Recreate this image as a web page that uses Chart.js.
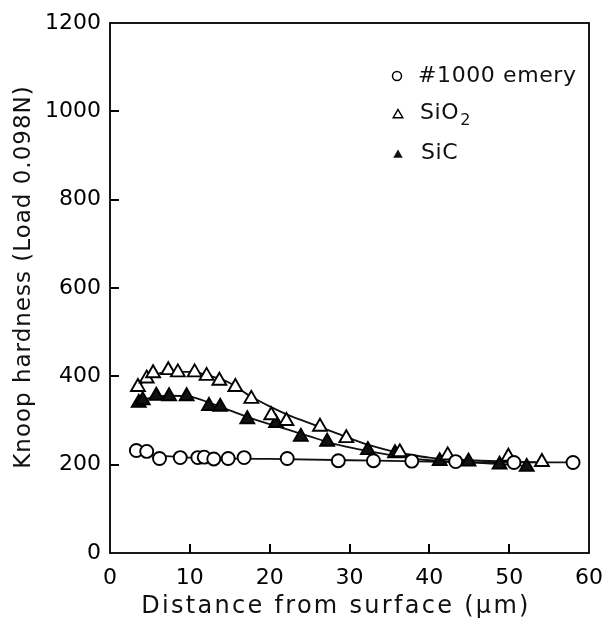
<!DOCTYPE html>
<html><head><meta charset="utf-8">
<script src="https://cdn.jsdelivr.net/npm/chart.js@4.4.1/dist/chart.umd.min.js"></script>
<style>html,body{margin:0;padding:0;background:#fff}#wrap{width:607px;height:623px}</style>
</head><body><div id="wrap"><canvas id="c" width="607" height="623"></canvas></div>
<script>
// ---- data ----
const xTickValues = [0, 10, 20, 30, 40, 50, 60];
const yTickValues = [0, 200, 400, 600, 800, 1000, 1200];
const seriesNames = ['#1000 emery', 'SiO', 'SiC'];

const emeryX = [3.3, 4.6, 6.2, 8.8, 11.0, 11.8, 13.0, 14.8, 16.8, 22.2, 28.6, 33.0, 37.8, 43.3, 50.6, 58.0];
const emeryY = [232, 230, 214, 216, 216, 217, 213, 214, 216, 214, 209, 209, 208, 207, 205, 205];

const sio2X = [3.5, 4.6, 5.4, 7.3, 8.5, 10.6, 12.1, 13.7, 15.7, 17.7, 20.2, 22.1, 26.3, 29.6, 36.3, 42.3, 49.9, 54.1];
const sio2Y = [376, 395, 407, 414, 409, 409, 401, 390, 376, 349, 312, 299, 286, 260, 228, 221, 218, 206];

const sicX = [3.6, 4.1, 5.8, 7.4, 9.6, 12.4, 13.8, 17.2, 20.8, 23.9, 27.2, 32.3, 35.7, 41.3, 44.9, 48.8, 52.2];
const sicY = [340, 346, 356, 355, 355, 333, 331, 303, 294, 263, 252, 233, 226, 208, 207, 200, 195];

// smooth curves drawn through the points
const emeryCurveX = [4.6, 10, 20, 30, 40, 50, 58];
const emeryCurveY = [222, 216, 213, 210, 207, 205, 205];
const sio2CurveX = [3.5, 5, 7.5, 10, 12.5, 15, 17.5, 20, 22.5, 25, 27.5, 30, 32.5, 35, 37.5, 40, 45, 50, 54];
const sio2CurveY = [378, 398, 410, 410, 401, 385, 356, 332, 311, 294, 277, 260, 244, 232, 223, 216, 210, 207, 205];
const sicCurveX = [3.6, 5, 7.5, 10, 12.5, 15, 17.5, 20, 22.5, 25, 27.5, 30, 32.5, 35, 37.5, 40, 45, 50, 52.2];
const sicCurveY = [342, 351, 356, 354, 340, 323, 306, 292, 278, 264, 250, 239, 230, 222, 215, 210, 205, 200, 197];

const xTitle = 'Distance from surface (\u03bcm)';
const yTitle = 'Knoop hardness (Load 0.098N)';

const pts = (xs, ys) => xs.map((x, i) => ({x, y: ys[i]}));
const FONT = '"DejaVu Sans", sans-serif';

const markerBase = {showLine: false, borderColor: '#000', borderWidth: 1.9, order: 0};
const curveBase = {showLine: true, pointRadius: 0, borderColor: '#111', borderWidth: 1.8,
  cubicInterpolationMode: 'monotone', fill: false, order: 1};

const frame = {
  id: 'frame',
  afterDraw(chart) {
    const ctx = chart.ctx;
    const a = chart.chartArea;
    const xs = chart.scales.x, ys = chart.scales.y;
    ctx.save();
    ctx.fillStyle = '#000';
    ctx.strokeStyle = '#000';
    ctx.lineWidth = 1.8;
    ctx.strokeRect(a.left, a.top, a.right - a.left, a.bottom - a.top);
    for (let i = 1; i < xTickValues.length - 1; i++) {
      const px = xs.getPixelForValue(xTickValues[i]);
      ctx.fillRect(Math.round(px) - 1, a.bottom - 9, 2, 9);
    }
    for (let i = 1; i < yTickValues.length - 1; i++) {
      const py = ys.getPixelForValue(yTickValues[i]);
      ctx.fillRect(a.left, Math.round(py) - 1, 9, 2);
    }

    ctx.fillStyle = '#111';
    ctx.textBaseline = 'middle';
    // axis titles
    ctx.font = '24px ' + FONT;
    ctx.letterSpacing = '2.3px';
    ctx.textAlign = 'center';
    ctx.fillText(xTitle, 336, 607);
    ctx.save();
    ctx.translate(24, 277);
    ctx.rotate(-Math.PI / 2);
    ctx.font = '23px ' + FONT;
    ctx.letterSpacing = '1px';
    ctx.fillText(yTitle, 0, 0);
    ctx.restore();
    // legend
    ctx.textAlign = 'left';
    ctx.font = '22px ' + FONT;
    ctx.letterSpacing = '0.6px';
    ctx.lineWidth = 1.5;
    ctx.beginPath(); ctx.arc(397, 76, 4.5, 0, Math.PI * 2); ctx.stroke();
    ctx.fillText(seriesNames[0], 418, 76);
    const tri = (cx, cy, r, filled) => {
      ctx.beginPath();
      ctx.moveTo(cx, cy - r);
      ctx.lineTo(cx + r * 0.866, cy + r / 2);
      ctx.lineTo(cx - r * 0.866, cy + r / 2);
      ctx.closePath();
      if (filled) ctx.fill(); else ctx.stroke();
    };
    tri(398, 115, 5.5, false);
    ctx.fillText(seriesNames[1], 420, 113);
    const w = ctx.measureText(seriesNames[1]).width;
    ctx.font = '16px ' + FONT;
    ctx.fillText('2', 420 + w + 1, 121);
    ctx.font = '22px ' + FONT;
    tri(398, 155, 5.5, true);
    ctx.fillText(seriesNames[2], 421, 153);
    ctx.restore();
  }
};

new Chart(document.getElementById('c'), {
  type: 'scatter',
  data: {
    datasets: [
      {...markerBase, label: seriesNames[0], data: pts(emeryX, emeryY), pointStyle: 'circle', pointRadius: 6.5, backgroundColor: '#fff'},
      {...markerBase, label: 'SiO2', data: pts(sio2X, sio2Y), pointStyle: 'triangle', pointRadius: 8, backgroundColor: '#fff'},
      {...markerBase, label: seriesNames[2], data: pts(sicX, sicY), pointStyle: 'triangle', pointRadius: 8, backgroundColor: '#111'},
      {...curveBase, label: 'emery curve', data: pts(emeryCurveX, emeryCurveY)},
      {...curveBase, label: 'SiO2 curve', data: pts(sio2CurveX, sio2CurveY)},
      {...curveBase, label: 'SiC curve', data: pts(sicCurveX, sicCurveY)}
    ]
  },
  options: {
    responsive: false,
    animation: false,
    devicePixelRatio: 1,
    layout: {padding: {left: 0, top: 23, right: 16, bottom: 0}},
    plugins: {legend: {display: false}, tooltip: {enabled: false}},
    scales: {
      x: {
        type: 'linear', min: 0, max: 60,
        afterBuildTicks: s => { s.ticks = xTickValues.map(v => ({value: v})); },
        afterFit: s => { s.height = 70; },
        ticks: {font: {family: FONT, size: 22}, color: '#000', padding: 4, maxRotation: 0,
          callback: v => String(v)},
        grid: {display: false},
        border: {display: false}
      },
      y: {
        type: 'linear', min: 0, max: 1200,
        afterBuildTicks: s => { s.ticks = yTickValues.map(v => ({value: v})); },
        afterFit: s => { s.width = 110; },
        ticks: {font: {family: FONT, size: 22}, color: '#000', padding: 1,
          callback: v => String(v)},
        grid: {display: false},
        border: {display: false}
      }
    }
  },
  plugins: [frame]
});
</script>
</body></html>
